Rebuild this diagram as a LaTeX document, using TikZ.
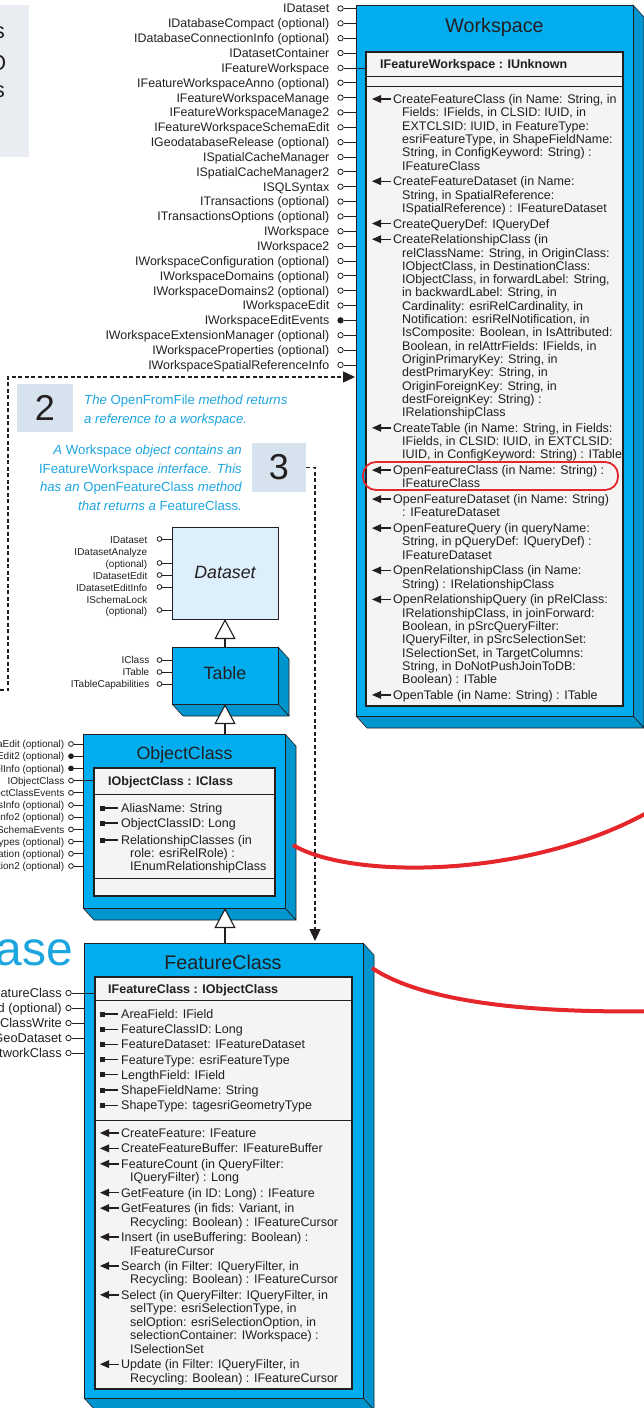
\documentclass[tikz,border=0pt]{standalone}
\usepackage{fontspec}
\setmainfont{Liberation Sans}
\usetikzlibrary{arrows.meta}

\definecolor{ink}{HTML}{231F20}
\definecolor{boxblue}{HTML}{00AEEF}
\definecolor{boxside}{HTML}{0095CE}
\definecolor{panel}{HTML}{F4F4F4}
\definecolor{absfill}{HTML}{DDEFFB}
\definecolor{notecyan}{HTML}{1DA5E0}
\definecolor{calloutbg}{HTML}{D6E3EE}
\definecolor{pagebg}{HTML}{E9EDF2}
\definecolor{hilite}{HTML}{E5262B}

\newcommand{\fs}[2]{\fontsize{#1}{#2}\selectfont}
\newcommand{\up}[1]{{\upshape #1}}

% 3-D class block: name, x1, y1, x2, y2 (front face)
\newcommand{\solidbox}[5]{%
  \filldraw[depthface] (#4,#3) -- (#4+11,#3+12) -- (#4+11,#5+12) -- (#4,#5) -- cycle;
  \filldraw[depthface] (#2,#5) -- (#4,#5) -- (#4+11,#5+12) -- (#2+11,#5+12) -- cycle;
  \node[front, minimum width={#4-#2}, minimum height={#5-#3}] (#1) at (#2,#3) {};
}

% one member line: name, kind (m method / p property / c continuation), marker x, y, text
\newcommand{\entry}[5]{%
  \if m#2
    \fill[ink] (#3,#4) -- (#3+9,#4-4) -- (#3+9,#4+4) -- cycle;
    \draw[ink, line width=1.4pt] (#3+8,#4) -- (#3+19,#4);
    \node[body] (#1) at (#3+21,#4+4.5) {#5};
  \fi
  \if p#2
    \fill[ink] (#3,#4-2.5) rectangle (#3+5,#4+2.5);
    \draw[ink, line width=1.1pt] (#3+5,#4) -- (#3+18,#4);
    \node[body] (#1) at (#3+21,#4+4.5) {#5};
  \fi
  \if c#2
    \node[body] (#1) at (#3+30,#4+4.5) {#5};
  \fi
}

\tikzset{
  front/.style={draw=ink, fill=boxblue, line width=0.8pt, inner sep=0pt, outer sep=0pt, anchor=north west},
  depthface/.style={draw=ink, fill=boxside, line width=0.6pt, line join=round},
  panelbox/.style={draw=ink, fill=panel, line width=1.3pt, inner sep=0pt, outer sep=0pt, anchor=north west},
  absbox/.style={draw=ink, fill=absfill, line width=0.9pt, inner sep=0pt, outer sep=0pt, anchor=north west},
  rule/.style={draw=ink, line width=0.9pt},
  bigtitle/.style={anchor=base, inner sep=0pt, text=ink, font=\fs{19.7}{22}},
  midtitle/.style={anchor=base, inner sep=0pt, text=ink, font=\fs{17.8}{20}},
  hdr/.style={anchor=base west, inner sep=0pt, text=ink, font=\fs{12.5}{14}\bfseries},
  body/.style={anchor=base west, inner sep=0pt, text=ink, font=\fs{12.5}{14}},
  wslbl/.style={anchor=base east, inner sep=0pt, text=ink, font=\fs{12.4}{14}},
  fclbl/.style={anchor=base east, inner sep=0pt, text=ink, font=\fs{12.8}{14}},
  smlbl/.style={anchor=base east, inner sep=0pt, text=ink, font=\fs{10}{12}},
  sockopen/.style={circle, draw=ink, fill=white, line width=0.8pt, inner sep=0pt, minimum size=5.4pt},
  sockfull/.style={sockopen, fill=ink},
  stem/.style={draw=ink, line width=0.8pt},
  flow/.style={draw=ink, line width=1.3pt, dash pattern=on 4pt off 2.5pt, -{Triangle[length=12pt,width=11pt]}},
  inherit/.style={draw=ink, line width=1.1pt, -{Triangle[open, fill=white, length=20pt, width=21pt]}},
  callout/.style={fill=calloutbg, inner sep=0pt, text=ink, font=\fs{36}{40}},
  note/.style={inner sep=0pt, text=notecyan, font=\fs{13.2}{15}\itshape},
  redlink/.style={draw=hilite, line width=4pt},
}

\begin{document}
\begin{tikzpicture}[x=1pt, y=-1pt]
\useasboundingbox (0,0) rectangle (644,1408);

% ---- page fragment at the top left
\node[fill=pagebg, inner sep=0pt, anchor=north west, minimum width=29, minimum height=152] (pg) at (0,5) {};
\node[anchor=base east, inner sep=0pt, text=ink, font=\fs{22}{24}] (pg-a) at (5,38) {s};
\node[anchor=base east, inner sep=0pt, text=ink, font=\fs{22}{24}] (pg-b) at (6.5,70) {O};
\node[anchor=base east, inner sep=0pt, text=ink, font=\fs{22}{24}] (pg-c) at (5,97) {s};

% ---- Workspace
\solidbox{ws}{356}{5}{633}{716}
\node[bigtitle] (ws-title) at (494.5,32) {Workspace};
\node[panelbox, minimum width=257, minimum height=654] (ws-panel) at (366,52) {};
\draw[rule] (366,76) -- (623,76);
\draw[rule] (366,86) -- (623,86);
\node[hdr] (ws-hdr) at (380,64+4.5) {IFeatureWorkspace : IUnknown};

\foreach \t/\st/\xe [count=\i] in {
  IDataset/sockopen/356,
  IDatabaseCompact (optional)/sockopen/356,
  IDatabaseConnectionInfo (optional)/sockopen/356,
  IDatasetContainer/sockopen/356,
  IFeatureWorkspace/sockopen/366,
  IFeatureWorkspaceAnno (optional)/sockopen/356,
  IFeatureWorkspaceManage/sockopen/356,
  IFeatureWorkspaceManage2/sockopen/356,
  IFeatureWorkspaceSchemaEdit/sockopen/356,
  IGeodatabaseRelease (optional)/sockopen/356,
  ISpatialCacheManager/sockopen/356,
  ISpatialCacheManager2/sockopen/356,
  ISQLSyntax/sockopen/356,
  ITransactions (optional)/sockopen/356,
  ITransactionsOptions (optional)/sockopen/356,
  IWorkspace/sockopen/356,
  IWorkspace2/sockopen/356,
  IWorkspaceConfiguration (optional)/sockopen/356,
  IWorkspaceDomains (optional)/sockopen/356,
  IWorkspaceDomains2 (optional)/sockopen/356,
  IWorkspaceEdit/sockopen/356,
  IWorkspaceEditEvents/sockfull/356,
  IWorkspaceExtensionManager (optional)/sockopen/356,
  IWorkspaceProperties (optional)/sockopen/356,
  IWorkspaceSpatialReferenceInfo/sockopen/356}{
  \pgfmathsetmacro\yy{8.5+(\i-1)*14.85}
  \node[\st] (wss-\i) at (340.5,\yy) {};
  \node[wslbl] (wsl-\i) at (329.5,\yy+4.4) {\t};
  \coordinate (wse-\i) at (\xe,\yy);
  \draw[stem] (wss-\i) -- (wse-\i);
}

\foreach \L/\G/\k/\t in {
  {1/0/m/CreateFeatureClass (in Name: String, in},
  {2/0/c/Fields: IFields, in CLSID: IUID, in},
  {3/0/c/EXTCLSID: IUID, in FeatureType:},
  {4/0/c/esriFeatureType, in ShapeFieldName:},
  {5/0/c/String, in ConfigKeyword: String) :},
  {6/0/c/IFeatureClass},
  {7/1/m/CreateFeatureDataset (in Name:},
  {8/1/c/String, in SpatialReference:},
  {9/1/c/ISpatialReference) : IFeatureDataset},
  {10/2/m/CreateQueryDef: IQueryDef},
  {11/3/m/CreateRelationshipClass (in},
  {12/3/c/relClassName: String, in OriginClass:},
  {13/3/c/IObjectClass, in DestinationClass:},
  {14/3/c/IObjectClass, in forwardLabel: String,},
  {15/3/c/in backwardLabel: String, in},
  {16/3/c/Cardinality: esriRelCardinality, in},
  {17/3/c/Notification: esriRelNotification, in},
  {18/3/c/IsComposite: Boolean, in IsAttributed:},
  {19/3/c/Boolean, in relAttrFields: IFields, in},
  {20/3/c/OriginPrimaryKey: String, in},
  {21/3/c/destPrimaryKey: String, in},
  {22/3/c/OriginForeignKey: String, in},
  {23/3/c/destForeignKey: String) :},
  {24/3/c/IRelationshipClass},
  {25/4/m/CreateTable (in Name: String, in Fields:},
  {26/4/c/IFields, in CLSID: IUID, in EXTCLSID:},
  {27/4/c/IUID, in ConfigKeyword: String) : ITable},
  {28/5/m/OpenFeatureClass (in Name: String) :},
  {29/5/c/IFeatureClass},
  {30/6/m/OpenFeatureDataset (in Name: String)},
  {31/6/c/: IFeatureDataset},
  {32/7/m/OpenFeatureQuery (in queryName:},
  {33/7/c/String, in pQueryDef: IQueryDef) :},
  {34/7/c/IFeatureDataset},
  {35/8/m/OpenRelationshipClass (in Name:},
  {36/8/c/String) : IRelationshipClass},
  {37/9/m/OpenRelationshipQuery (in pRelClass:},
  {38/9/c/IRelationshipClass, in joinForward:},
  {39/9/c/Boolean, in pSrcQueryFilter:},
  {40/9/c/IQueryFilter, in pSrcSelectionSet:},
  {41/9/c/ISelectionSet, in TargetColumns:},
  {42/9/c/String, in DoNotPushJoinToDB:},
  {43/9/c/Boolean) : ITable},
  {44/10/m/OpenTable (in Name: String) : ITable}}{
  \pgfmathsetmacro\yy{99+(\L-1)*13.3+\G*2.4}
  \entry{ws-m\L}{\k}{372}{\yy}{\t}
}

% ---- abstract Dataset
\node[absbox, minimum width=106, minimum height=92] (ds) at (172,527) {};
\node[midtitle, font=\fs{17.8}{20}\itshape] (ds-title) at (225,578.5) {Dataset};
\foreach \t/\yy [count=\i] in {IDataset/540, IDatasetAnalyze/552, (optional)/564,
  IDatasetEdit/576, IDatasetEditInfo/588, ISchemaLock/599.5, (optional)/611}{
  \node[smlbl] (dsl-\i) at (147.5,\yy+3.6) {\t};
}
\foreach \yy [count=\i] in {539,563,575,587,610}{
  \node[sockopen, minimum size=4.8pt] (dss-\i) at (159.5,\yy) {};
  \coordinate (dse-\i) at (172,\yy);
  \draw[stem] (dss-\i) -- (dse-\i);
}

% ---- Table
\solidbox{tbl}{172}{647}{278}{704}
\node[midtitle] (tbl-title) at (225,679.5) {Table};
\foreach \t/\yy [count=\i] in {IClass/660, ITable/672, ITableCapabilities/684}{
  \node[smlbl] (tbll-\i) at (149.5,\yy+3.6) {\t};
  \node[sockopen, minimum size=4.8pt] (tbls-\i) at (159.5,\yy) {};
  \coordinate (tble-\i) at (172,\yy);
  \draw[stem] (tbls-\i) -- (tble-\i);
}

% ---- ObjectClass
\solidbox{oc}{83}{734}{285}{908}
\node[midtitle] (oc-title) at (184.5,759) {ObjectClass};
\node[panelbox, minimum width=181, minimum height=128] (oc-panel) at (94,768) {};
\draw[rule] (94,794) -- (275,794);
\draw[rule] (94,878) -- (275,878);
\node[hdr] (oc-hdr) at (108,781+4.5) {IObjectClass : IClass};
\foreach \yy/\k/\t in {808/p/AliasName: String, 823/p/ObjectClassID: Long,
  840/p/RelationshipClasses (in, 853/c/role: esriRelRole) :, 866/c/IEnumRelationshipClass}{
  \entry{oc-m\yy}{\k}{100}{\yy}{\t}
}
\foreach \t/\st/\xe [count=\i] in {
  IClassSchemaEdit (optional)/sockopen/83,
  IClassSchemaEdit2 (optional)/sockfull/83,
  IModelInfo (optional)/sockfull/83,
  IObjectClass/sockopen/94,
  IObjectClassEvents/sockopen/83,
  IObjectClassInfo (optional)/sockopen/83,
  IObjectClassInfo2 (optional)/sockopen/83,
  IObjectClassSchemaEvents/sockopen/83,
  ISubtypes (optional)/sockopen/83,
  IValidation (optional)/sockopen/83,
  IValidation2 (optional)/sockopen/83}{
  \pgfmathsetmacro\yy{744+(\i-1)*12.2}
  \node[\st, minimum size=4.8pt] (ocs-\i) at (71,\yy) {};
  \node[smlbl] (ocl-\i) at (64.5,\yy+3.6) {\t};
  \coordinate (oce-\i) at (\xe,\yy);
  \draw[stem] (ocs-\i) -- (oce-\i);
}

% ---- FeatureClass
\solidbox{fc}{84}{943}{363}{1398}
\node[bigtitle] (fc-title) at (223,969.5) {FeatureClass};
\node[panelbox, minimum width=257, minimum height=412] (fc-panel) at (95,977) {};
\draw[rule] (95,1000) -- (352,1000);
\draw[rule] (95,1120) -- (352,1120);
\node[hdr] (fc-hdr) at (108,988.5+4.5) {IFeatureClass : IObjectClass};
\foreach \t [count=\i] in {AreaField: IField, FeatureClassID: Long, FeatureDataset: IFeatureDataset,
  FeatureType: esriFeatureType, LengthField: IField, ShapeFieldName: String,
  ShapeType: tagesriGeometryType}{
  \pgfmathsetmacro\yy{1014+(\i-1)*15.2}
  \entry{fc-p\i}{p}{100}{\yy}{\t}
}
\foreach \L/\G/\k/\t in {
  {1/0/m/CreateFeature: IFeature},
  {2/1/m/CreateFeatureBuffer: IFeatureBuffer},
  {3/2/m/FeatureCount (in QueryFilter:},
  {4/2/c/IQueryFilter) : Long},
  {5/3/m/GetFeature (in ID: Long) : IFeature},
  {6/4/m/GetFeatures (in fids: Variant, in},
  {7/4/c/Recycling: Boolean) : IFeatureCursor},
  {8/5/m/Insert (in useBuffering: Boolean) :},
  {9/5/c/IFeatureCursor},
  {10/6/m/Search (in Filter: IQueryFilter, in},
  {11/6/c/Recycling: Boolean) : IFeatureCursor},
  {12/7/m/Select (in QueryFilter: IQueryFilter, in},
  {13/7/c/selType: esriSelectionType, in},
  {14/7/c/selOption: esriSelectionOption, in},
  {15/7/c/selectionContainer: IWorkspace) :},
  {16/7/c/ISelectionSet},
  {17/8/m/Update (in Filter: IQueryFilter, in},
  {18/8/c/Recycling: Boolean) : IFeatureCursor}}{
  \pgfmathsetmacro\yy{1133+(\L-1)*13.5+\G*1.9}
  \entry{fc-m\L}{\k}{100}{\yy}{\t}
}
\foreach \t/\xe [count=\i] in {IFeatureClass/95, IFeatureClassLoad (optional)/84,
  IFeatureClassWrite/84, IGeoDataset/84, INetworkClass/84}{
  \pgfmathsetmacro\yy{993+(\i-1)*15}
  \node[sockopen] (fcs-\i) at (68.5,\yy) {};
  \node[fclbl] (fcl-\i) at (62,\yy+4.5) {\t};
  \coordinate (fce-\i) at (\xe,\yy);
  \draw[stem] (fcs-\i) -- (fce-\i);
}

% ---- large heading fragment
\node[anchor=base east, inner sep=0pt, text=notecyan, font=\fs{48}{50}] (gdb) at (73.5,965) {Geodatabase};

% ---- numbered callouts and notes
\node[callout, minimum width=56, minimum height=48] (n2) at (45,408) {2};
\node[note, anchor=base west] (t2a) at (84,400+4.7) {The \up{OpenFromFile} method returns};
\node[note, anchor=base west] (t2b) at (84,419+4.7) {a reference to a workspace.};
\node[callout, minimum width=54, minimum height=49] (n3) at (279,467.5) {3};
\node[note, anchor=base east] (t3a) at (242,450+4.7) {A \up{Workspace} object contains an};
\node[note, anchor=base east] (t3b) at (242,468.5+4.7) {\up{IFeatureWorkspace} interface. This};
\node[note, anchor=base east] (t3c) at (242,487+4.7) {has an \up{OpenFeatureClass} method};
\node[note, anchor=base east] (t3d) at (242,506+4.7) {that returns a \up{FeatureClass}.};

% ---- inheritance
\draw[inherit] (tbl.north) -- (ds.south);
\draw[inherit] (oc.north -| tbl.south) -- (tbl.south);
\draw[inherit] (fc.north -| tbl.south) -- (oc.south -| tbl.south);

% ---- flow of the example
\coordinate (flowstart) at (0,690);
\coordinate (flowcorner) at (8,690);
\coordinate (wsin) at (355,377);
\draw[flow] (flowstart) -- (flowcorner) |- (wsin);
\coordinate (fcin) at (315,941);
\draw[flow] (n3.east) -| (fcin);

% ---- highlight and red links
\node[draw=hilite, line width=1.8pt, rounded corners=13pt, inner sep=0pt, minimum width=255, minimum height=28] (hl) at (490.5,476) {};
\coordinate (rl1a) at (293,845);
\coordinate (rl1b) at (662,804);
\draw[redlink] (rl1a) .. controls (350,880) and (540,880) .. (rl1b);
\coordinate (rl2a) at (372,968);
\coordinate (rl2b) at (662,1011);
\draw[redlink] (rl2a) .. controls (420,1000) and (520,1014) .. (rl2b);
\end{tikzpicture}
\end{document}
